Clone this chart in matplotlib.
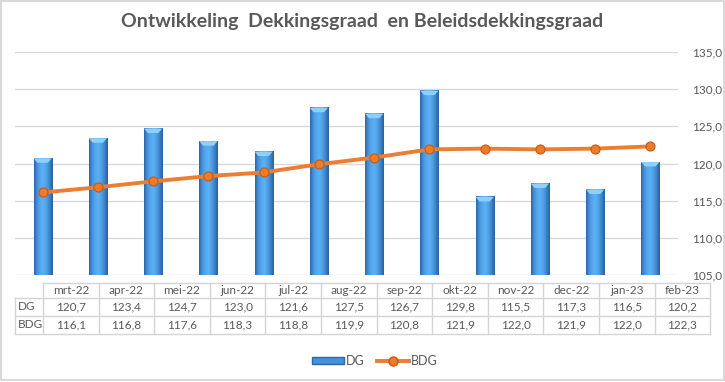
import numpy as np
import matplotlib
matplotlib.use("Agg")
import matplotlib.pyplot as plt
from matplotlib.colors import LinearSegmentedColormap
from matplotlib.patches import Rectangle, Polygon
from matplotlib.lines import Line2D

months = ['mrt-22', 'apr-22', 'mei-22', 'jun-22', 'jul-22', 'aug-22',
          'sep-22', 'okt-22', 'nov-22', 'dec-22', 'jan-23', 'feb-23']
dg = [120.7, 123.4, 124.7, 123.0, 121.6, 127.5, 126.7, 129.8, 115.5, 117.3, 116.5, 120.2]
bdg = [116.1, 116.8, 117.6, 118.3, 118.8, 119.9, 120.8, 121.9, 122.0, 121.9, 122.0, 122.3]
y_ticks = [105, 110, 115, 120, 125, 130, 135]

W, H = 725, 382
plt.rcParams['font.family'] = ['Lato', 'DejaVu Sans']
grey = '#595959'

fig = plt.figure(figsize=(W / 100, H / 100), dpi=100)

# main plot area (pixel positions)
left, right, top, bottom = 15, 678, 52, 275
ax = fig.add_axes([left / W, 1 - bottom / H, (right - left) / W, (bottom - top) / H])

x = np.arange(len(months))
bw = 0.33
cmap = LinearSegmentedColormap.from_list(
    'bar', ['#2f66a3', '#4592dc', '#56a8ee', '#5cb0f2', '#4f9fe6', '#3c82c8', '#2b5f9a'])
grad = np.linspace(0, 1, 64).reshape(1, -1)
for xi, v in zip(x, dg):
    ax.imshow(grad, extent=(xi - bw / 2, xi + bw / 2, 105, v), aspect='auto',
              cmap=cmap, zorder=2, interpolation='bilinear')
    # light bevel at the top of each bar
    ax.add_patch(Polygon([(xi - bw / 2, v), (xi + bw / 2, v),
                          (xi + bw / 2 - 0.07, v - 0.6), (xi - bw / 2 + 0.07, v - 0.6)],
                         closed=True, facecolor='#8fd0fa', edgecolor='none', zorder=3))

ax.plot(x, bdg, color='#ed7d31', lw=2.8, marker='o', markersize=6.5,
        markerfacecolor='#ee7a2a', markeredgecolor='#c55a11', markeredgewidth=0.8, zorder=4)

ax.set_xlim(-0.5, len(months) - 0.5)
ax.set_ylim(105, 135)
ax.set_yticks(y_ticks)
ax.set_yticklabels([f'{t:.1f}'.replace('.', ',') for t in y_ticks])
ax.yaxis.tick_right()
ax.tick_params(axis='y', length=0, pad=10, labelsize=8.5, labelcolor=grey)
ax.set_xticks([])
ax.grid(axis='y', color='#d9d9d9', lw=1)
ax.set_axisbelow(True)
for s in ax.spines.values():
    s.set_visible(False)

# data table drawn in pixel coordinates
tab = fig.add_axes([0, 0, 1, 1])
tab.set_xlim(0, W)
tab.set_ylim(H, 0)
tab.axis('off')
tab.patch.set_alpha(0)
lc = '#d4d4d4'
col0, col1, cw = 15, 43, 55.6
rows = [283, 298, 316, 334]
x_end = col1 + cw * len(months)
tab.plot([col1, x_end], [rows[0], rows[0]], color=lc, lw=1)
for r in rows[1:]:
    tab.plot([col0, x_end], [r, r], color=lc, lw=1)
tab.plot([col0, col0], [rows[1], rows[3]], color=lc, lw=1)
for i in range(len(months) + 1):
    xx = col1 + cw * i
    tab.plot([xx, xx], [rows[0], rows[3]], color=lc, lw=1)
fs = 8.5
for i, m in enumerate(months):
    cx = col1 + cw * (i + 0.5)
    tab.text(cx, (rows[0] + rows[1]) / 2, m, ha='center', va='center', fontsize=fs, color=grey)
    tab.text(cx, (rows[1] + rows[2]) / 2, f'{dg[i]:.1f}'.replace('.', ','),
             ha='center', va='center', fontsize=fs, color=grey)
    tab.text(cx, (rows[2] + rows[3]) / 2, f'{bdg[i]:.1f}'.replace('.', ','),
             ha='center', va='center', fontsize=fs, color=grey)
tab.text(col0 + 3, (rows[1] + rows[2]) / 2, 'DG', ha='left', va='center', fontsize=fs, color=grey)
tab.text(col0 + 3, (rows[2] + rows[3]) / 2, 'BDG', ha='left', va='center', fontsize=fs, color=grey)

# chart border
tab.add_patch(Rectangle((1, 1), W - 2, H - 3, fill=False, edgecolor='#d9d9d9', lw=1.5))

fig.text(0.5, 1 - 22 / H, 'Ontwikkeling  Dekkingsgraad  en Beleidsdekkingsgraad',
         ha='center', va='center', fontsize=14, fontweight='bold', color=grey)

handles = [Rectangle((0, 0), 1, 1, facecolor='#4592dc', edgecolor='#2f66a3'),
           Line2D([], [], color='#ed7d31', lw=2.8, marker='o', markersize=6.5,
                  markerfacecolor='#ee7a2a', markeredgecolor='#c55a11')]
fig.legend(handles, ['DG', 'BDG'], loc='center', bbox_to_anchor=(375 / W, 1 - 361 / H),
           ncol=2, frameon=False, fontsize=9, labelcolor=grey, handlelength=2.5,
           handleheight=0.5, columnspacing=1.0, handletextpad=0.2)

fig.savefig('out.png', dpi=100)
